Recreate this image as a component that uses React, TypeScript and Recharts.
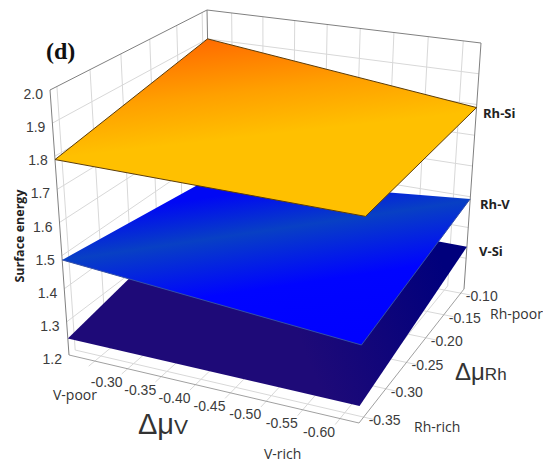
import React from "react";
import { ComposedChart, XAxis, YAxis, Area, Line, Scatter } from "recharts";

const W = 543;
const H = 463;

// ---- data ----
const vTicks = [-0.25, -0.3, -0.35, -0.4, -0.45, -0.5, -0.55, -0.6];
const vTickLabels = ["", "-0.30", "-0.35", "-0.40", "-0.45", "-0.50", "-0.55", "-0.60"];
const rhTicks = [-0.35, -0.3, -0.25, -0.2, -0.15, -0.1];
const rhTickLabels = ["-0.35", "-0.30", "-0.25", "-0.20", "-0.15", "-0.10"];
const energyTicks = [1.2, 1.3, 1.4, 1.5, 1.6, 1.7, 1.8, 1.9, 2.0];
const energyTickLabels = ["1.2", "1.3", "1.4", "1.5", "1.6", "1.7", "1.8", "1.9", "2.0"];
const vRange = [-0.21, -0.625];
const rhRange = [-0.36, -0.09];
const energyRange = [1.2, 2.0];
// surface energies at the corners: [V-poor/Rh-rich, V-poor/Rh-poor, V-rich/Rh-poor, V-rich/Rh-rich]
const rhSi = [1.79, 1.9, 1.79, 1.78];
const rhV = [1.487, 1.418, 1.493, 1.419];
const vSi = [1.25, 1.346, 1.337, 1.248];

// ---- box projection (perspective view of the 3D box) ----
type P = [number, number];
const topQuad: P[] = [[50, 90], [207, 10], [481, 43], [368, 138]];
const floorQuad: P[] = [[69, 355], [211.5, 241], [464, 289], [359, 423]];

function homography(q: P[]) {
  const [[x0, y0], [x1, y1], [x2, y2], [x3, y3]] = q;
  const dx1 = x1 - x2, dx2 = x3 - x2, sx = x0 - x1 + x2 - x3;
  const dy1 = y1 - y2, dy2 = y3 - y2, sy = y0 - y1 + y2 - y3;
  const d = dx1 * dy2 - dx2 * dy1;
  const g = (sx * dy2 - dx2 * sy) / d;
  const h = (dx1 * sy - sx * dy1) / d;
  const a = x1 - x0 + g * x1, b = x3 - x0 + h * x3;
  const e = y1 - y0 + g * y1, f = y3 - y0 + h * y3;
  return (s: number, t: number): P => {
    const den = g * s + h * t + 1;
    return [(a * s + b * t + x0) / den, (e * s + f * t + y0) / den];
  };
}
// s runs along L->B (Rh), t runs along L->F (V)
const topH = homography(topQuad);
const floorH = homography(floorQuad);

function project(v: number, rh: number, en: number) {
  const t = (v - vRange[0]) / (vRange[1] - vRange[0]);
  const s = (rh - rhRange[0]) / (rhRange[1] - rhRange[0]);
  const z = (en - energyRange[0]) / (energyRange[1] - energyRange[0]);
  const a = floorH(s, t);
  const b = topH(s, t);
  return { x: a[0] + (b[0] - a[0]) * z, y: a[1] + (b[1] - a[1]) * z };
}
type Pt = { x: number; y: number };
const seg = (a: Pt, b: Pt) => [a, b];

const vA = vRange[0], vB = vRange[1], rA = rhRange[0], rB = rhRange[1], eA = 1.2, eB = 2.0;
// tick stubs reach a little past the floor's front edges
const vStub = vB - 0.014;
const rStub = rA - 0.01;

function corners(e: number[]): Pt[] {
  return [project(vA, rA, e[0]), project(vA, rB, e[1]), project(vB, rB, e[2]), project(vB, rA, e[3])];
}
function band(poly: Pt[]) {
  const xs = poly.map((p) => p.x).sort((a, b) => a - b);
  return xs.map((x) => {
    const ys: number[] = [];
    poly.forEach((p, i) => {
      const q = poly[(i + 1) % poly.length];
      const lo = Math.min(p.x, q.x), hi = Math.max(p.x, q.x);
      if (x >= lo - 1e-9 && x <= hi + 1e-9 && hi > lo) ys.push(p.y + ((x - p.x) / (q.x - p.x)) * (q.y - p.y));
    });
    return { x, range: [Math.min(...ys), Math.max(...ys)] };
  });
}

const gridLines: Pt[][] = [
  ...vTicks.map((v) => seg(project(v, rB, eA), project(v, rB, eB))),
  ...rhTicks.map((r) => seg(project(vA, r, eA), project(vA, r, eB))),
  ...energyTicks.slice(1, -1).flatMap((e) => [
    seg(project(vA, rA, e), project(vA, rB, e)),
    seg(project(vA, rB, e), project(vB, rB, e)),
  ]),
  ...vTicks.map((v) => seg(project(v, rStub, eA), project(v, rB, eA))),
  ...rhTicks.map((r) => seg(project(vA, r, eA), project(vStub, r, eA))),
];
const boxLines: Pt[][] = [
  seg(project(vA, rA, eB), project(vA, rB, eB)),
  seg(project(vA, rB, eB), project(vB, rB, eB)),
  seg(project(vA, rA, eA), project(vA, rA, eB)),
  seg(project(vB, rB, eA), project(vB, rB, eB)),
  seg(project(vA, rB, eA), project(vA, rB, eB)),
];
const floorEdges: Pt[][] = [
  seg(project(vA, rA, eA), project(vB, rA, eA)),
  seg(project(vB, rA, eA), project(vB, rB, eA)),
];

const tickTexts = [
  ...energyTicks.map((e, i) => {
    const p = project(vA, rA, e);
    return { x: p.x - 7, y: p.y + 4, label: energyTickLabels[i], anchor: "end" };
  }),
  ...vTicks.map((v, i) => {
    const p = project(v, rA, eA);
    return { x: p.x - 21, y: p.y + 13, label: vTickLabels[i], anchor: "middle" };
  }),
  ...rhTicks.map((r, i) => {
    const p = project(vB, r, eA);
    return { x: p.x + 21, y: p.y + 3, label: rhTickLabels[i], anchor: "middle" };
  }),
];

const outline = (c: Pt[]) => [...c, c[0]];
const orange = corners(rhSi);
const blue = corners(rhV);
const purple = corners(vSi);

const SANS = "'Liberation Sans', Arial, sans-serif";
const LABEL = "'Open Sans', 'Noto Sans', sans-serif";

const TickText = (props: any) => {
  const { cx, cy, payload } = props;
  return (
    <text x={cx} y={cy} dy={5} textAnchor={payload.anchor} fontFamily={SANS} fontSize={14} fill="#3c3c3c">
      {payload.label}
    </text>
  );
};

export default function App() {
  return (
    <div style={{ position: "absolute", left: 0, top: 0, width: W, height: H, background: "#fff" }}>
      <ComposedChart width={W} height={H} margin={{ top: 0, right: 0, bottom: 0, left: 0 }}>
        <defs>
          <linearGradient id="gOrange" gradientUnits="userSpaceOnUse" x1="207" y1="40" x2="218" y2="140">
            <stop offset="0" stopColor="#ff6c00" />
            <stop offset="0.55" stopColor="#ffa000" />
            <stop offset="1" stopColor="#ffc000" />
          </linearGradient>
          <linearGradient id="gBlue" gradientUnits="userSpaceOnUse" x1="211" y1="197" x2="237" y2="374">
            <stop offset="0" stopColor="#0008f4" />
            <stop offset="0.23" stopColor="#0840c4" />
            <stop offset="0.55" stopColor="#0004ff" />
            <stop offset="1" stopColor="#0000ff" />
          </linearGradient>
          <linearGradient id="gPurple" gradientUnits="userSpaceOnUse" x1="300" y1="340" x2="450" y2="280">
            <stop offset="0" stopColor="#1e0a78" />
            <stop offset="1" stopColor="#00007c" />
          </linearGradient>
        </defs>
        <XAxis type="number" dataKey="x" domain={[0, W]} hide allowDataOverflow />
        <YAxis type="number" dataKey="y" domain={[0, H]} reversed hide allowDataOverflow width={0} />
        {gridLines.map((d, i) => (
          <Line key={"g" + i} data={d} dataKey="y" stroke="#d8d8d8" strokeWidth={1} dot={false} isAnimationActive={false} zIndex={10} />
        ))}
        {floorEdges.map((d, i) => (
          <Line key={"f" + i} data={d} dataKey="y" stroke="#a0a0a0" strokeWidth={1} dot={false} isAnimationActive={false} zIndex={11} />
        ))}
        {boxLines.map((d, i) => (
          <Line key={"b" + i} data={d} dataKey="y" stroke="#808080" strokeWidth={1} dot={false} isAnimationActive={false} zIndex={11} />
        ))}
        <Area data={band(purple)} dataKey="range" type="linear" fill="url(#gPurple)" fillOpacity={1} stroke="none" dot={false} isAnimationActive={false} zIndex={20} />
        <Area data={band(blue)} dataKey="range" type="linear" fill="url(#gBlue)" fillOpacity={1} stroke="none" dot={false} isAnimationActive={false} zIndex={30} />
        <Line data={[blue[0], blue[3], blue[2]]} dataKey="y" stroke="#3450a8" strokeWidth={1} dot={false} isAnimationActive={false} zIndex={31} />
        <Area data={band(orange)} dataKey="range" type="linear" fill="url(#gOrange)" fillOpacity={1} stroke="none" dot={false} isAnimationActive={false} zIndex={40} />
        <Line data={outline(orange)} dataKey="y" stroke="#5c3c08" strokeWidth={1} dot={false} isAnimationActive={false} zIndex={41} />
        <Scatter data={tickTexts} dataKey="y" shape={TickText} isAnimationActive={false} zIndex={60} />
        <g>
          <text x={46} y={59} fontFamily="'Liberation Serif', serif" fontWeight="bold" fontSize={24} fill="#111">(d)</text>
          <text x={0} y={0} transform="translate(24,236) rotate(-90)" textAnchor="middle" fontFamily={LABEL} fontWeight="bold" fontSize={12.5} fill="#222">Surface energy</text>
          <text x={483} y={118} fontFamily={LABEL} fontWeight="bold" fontSize={13} fill="#222">Rh-Si</text>
          <text x={480} y={209} fontFamily={LABEL} fontWeight="bold" fontSize={13} fill="#222">Rh-V</text>
          <text x={479} y={256} fontFamily={LABEL} fontWeight="bold" fontSize={13} fill="#222">V-Si</text>
          <text x={53} y={400} fontFamily={LABEL} fontSize={14} fill="#333">V-poor</text>
          <text x={264} y={459} fontFamily={LABEL} fontSize={14} fill="#333">V-rich</text>
          <text x={490} y={319} fontFamily={LABEL} fontSize={14} fill="#333">Rh-poor</text>
          <text x={414} y={432} fontFamily={LABEL} fontSize={14} fill="#333">Rh-rich</text>
          <text x={138} y={434} fontFamily={SANS} fontSize={29} fill="#333">Δμ<tspan fontSize={21}>V</tspan></text>
          <text x={455} y={380} fontFamily={SANS} fontSize={24} fill="#333">Δμ<tspan fontSize={17}>Rh</tspan></text>
        </g>
      </ComposedChart>
    </div>
  );
}
